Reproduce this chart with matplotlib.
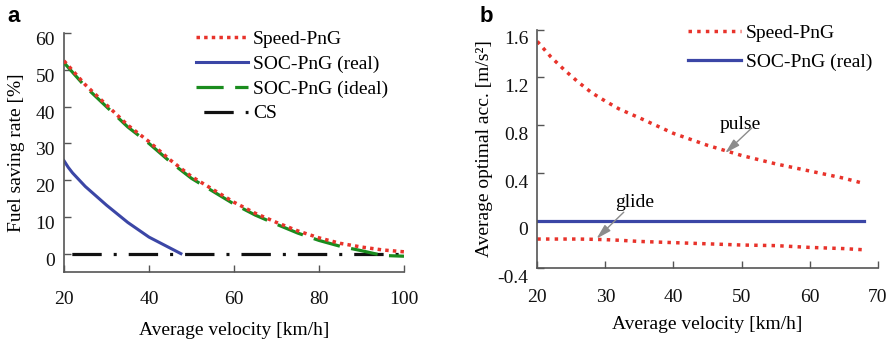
import matplotlib
matplotlib.use("Agg")
import matplotlib.pyplot as plt
from matplotlib.transforms import ScaledTranslation

plt.rcParams['font.family'] = ['Liberation Serif', 'DejaVu Serif']
plt.rcParams['font.size'] = 14

# ---- Panel a: fuel saving rate vs average velocity ----
vel_a = [20, 25, 30, 35, 40, 45, 50, 55, 60, 65, 70, 75, 80, 85, 90, 95, 100]
speed_png_a = [52.5, 46.0, 40.5, 35.0, 30.5, 25.5, 21.0, 17.5, 14.0, 11.0,
               8.5, 6.2, 4.3, 2.8, 1.8, 1.0, 0.5]
soc_ideal_a = [52.0, 45.5, 40.0, 34.5, 30.0, 25.0, 20.5, 17.0, 13.5, 10.5,
               8.0, 5.6, 3.6, 2.0, 0.8, -0.5, -0.7]
vel_real = [20, 21, 22, 25, 30, 35, 40, 45, 47.5]
soc_real_a = [25.3, 23.5, 22.0, 18.3, 13.2, 8.5, 4.5, 1.5, 0.0]
vel_cs = [20, 100]
cs_a = [0, 0]

# ---- Panel b: average optimal acceleration ----
vel_b = [20, 22, 24, 26, 28, 30, 32, 35, 40, 45, 50, 55, 60, 65, 68]
pulse_b = [1.50, 1.37, 1.26, 1.16, 1.07, 1.00, 0.935, 0.86, 0.73, 0.63,
           0.545, 0.475, 0.415, 0.355, 0.31]
glide_b = [-0.155, -0.155, -0.155, -0.155, -0.157, -0.16, -0.165, -0.175,
           -0.185, -0.195, -0.205, -0.21, -0.225, -0.235, -0.245]
vel_soc_b = [20, 68]
soc_real_b = [0, 0]

RED = '#e8332b'
BLUE = '#3b46a6'
GREEN = '#1a8c1e'
BLACK = '#111111'
SPINE = '#555555'

fig = plt.figure(figsize=(8.94, 3.42), dpi=100)
W, H = 894, 342


def axes_px(x0, x1, ytop, ybot):
    return fig.add_axes([x0 / W, 1 - ybot / H, (x1 - x0) / W, (ybot - ytop) / H])


def style_axes(ax, ylab_shift_px, xpad):
    for s in ('top', 'right'):
        ax.spines[s].set_visible(False)
    for s in ('left', 'bottom'):
        ax.spines[s].set_color(SPINE)
        ax.spines[s].set_linewidth(1.2)
    ax.tick_params(direction='in', length=5, width=1.0, color=SPINE,
                   labelsize=14, labelcolor='#111111')
    ax.tick_params(axis='y', pad=6.5)
    ax.tick_params(axis='x', pad=xpad)
    off = ScaledTranslation(0, -ylab_shift_px / 100.0, fig.dpi_scale_trans)
    for lab in ax.get_yticklabels():
        lab.set_transform(lab.get_transform() + off)


dot = (0, (1, 1.2))
# ---------------- Panel a ----------------
ax1 = axes_px(64, 404, 33.3, 272)
ax1.plot(vel_a, speed_png_a, color=RED, lw=2.5, linestyle=dot,
         label='Speed-PnG', zorder=4)
ax1.plot(vel_real, soc_real_a, color=BLUE, lw=2.2, label='SOC-PnG (real)')
ax1.plot(vel_a, soc_ideal_a, color=GREEN, lw=2.3,
         linestyle=(0, (8.5, 3.6)), label='SOC-PnG (ideal)', zorder=3)
ax1.plot(vel_cs, cs_a, color=BLACK, lw=2.3,
         linestyle=(15.2, (9.2, 3.75, 0.95, 3.75)), label='CS', zorder=2)
ax1.set_xlim(20, 100)
ax1.set_ylim(-5, 60)
ax1.set_xticks([20, 40, 60, 80, 100])
ax1.set_yticks([0, 10, 20, 30, 40, 50, 60])
style_axes(ax1, 5.5, 13.5)
ax1.set_xlabel('Average velocity [km/h]')
ax1.set_ylabel('Fuel saving rate [%]')
ax1.xaxis.set_label_coords(0.5, -0.21)
ax1.yaxis.set_label_coords(-0.115, 0.5)
leg1 = ax1.legend(loc='upper left', bbox_to_anchor=(196 / W, 1 - 30 / H),
                  bbox_transform=fig.transFigure, frameon=False, fontsize=14,
                  handlelength=2.67, handletextpad=0.26, labelspacing=0.375,
                  borderpad=0, borderaxespad=0)
fig.text(7 / W, 1 - 22 / H, 'a', family='Liberation Sans', weight='bold',
         fontsize=16, va='baseline')

# ---------------- Panel b ----------------
ax2 = axes_px(537.3, 877.7, 29.5, 268.3)
dot_b = (0, (1, 1.5))
ax2.plot(vel_b, pulse_b, color=RED, lw=2.5, linestyle=dot_b, label='Speed-PnG')
ax2.plot(vel_soc_b, soc_real_b, color=BLUE, lw=2.3, label='SOC-PnG (real)')
ax2.plot(vel_b, glide_b, color=RED, lw=2.5, linestyle=dot_b)
ax2.set_xlim(20, 70)
ax2.set_ylim(-0.4, 1.6)
ax2.set_xticks([20, 30, 40, 50, 60, 70])
ax2.set_yticks([-0.4, 0, 0.4, 0.8, 1.2, 1.6])
ax2.set_yticklabels(['-0.4', '0', '0.4', '0.8', '1.2', '1.6'])
style_axes(ax2, 8.3, 15)
ax2.set_xlabel('Average velocity [km/h]')
ax2.set_ylabel('Average optimal acc. [m/s²]')
ax2.xaxis.set_label_coords(0.5, -0.2)
ax2.yaxis.set_label_coords(-0.13, 0.5)
leg2 = ax2.legend(loc='upper left', bbox_to_anchor=(688 / W, 1 - 24 / H),
                  bbox_transform=fig.transFigure, frameon=False, fontsize=14,
                  handlelength=2.7, handletextpad=0.26, labelspacing=0.6,
                  borderpad=0, borderaxespad=0)
fig.text(480 / W, 1 - 22 / H, 'b', family='Liberation Sans', weight='bold',
         fontsize=16, va='baseline')

arrow = dict(arrowstyle='-|>,head_length=0.9,head_width=0.25', color='#8c8c8c',
             lw=1.0, shrinkA=0, shrinkB=0, mutation_scale=10)
ax2.annotate('', xy=(47.6, 0.565), xytext=(51.5, 0.775), arrowprops=arrow)
ax2.text(49.8, 0.805, 'pulse', ha='center', va='center', fontsize=14)
ax2.annotate('', xy=(28.7, -0.152), xytext=(32.7, 0.07), arrowprops=arrow)
ax2.text(34.25, 0.151, 'glide', ha='center', va='center', fontsize=14)

fig.savefig('out.png', dpi=100)
